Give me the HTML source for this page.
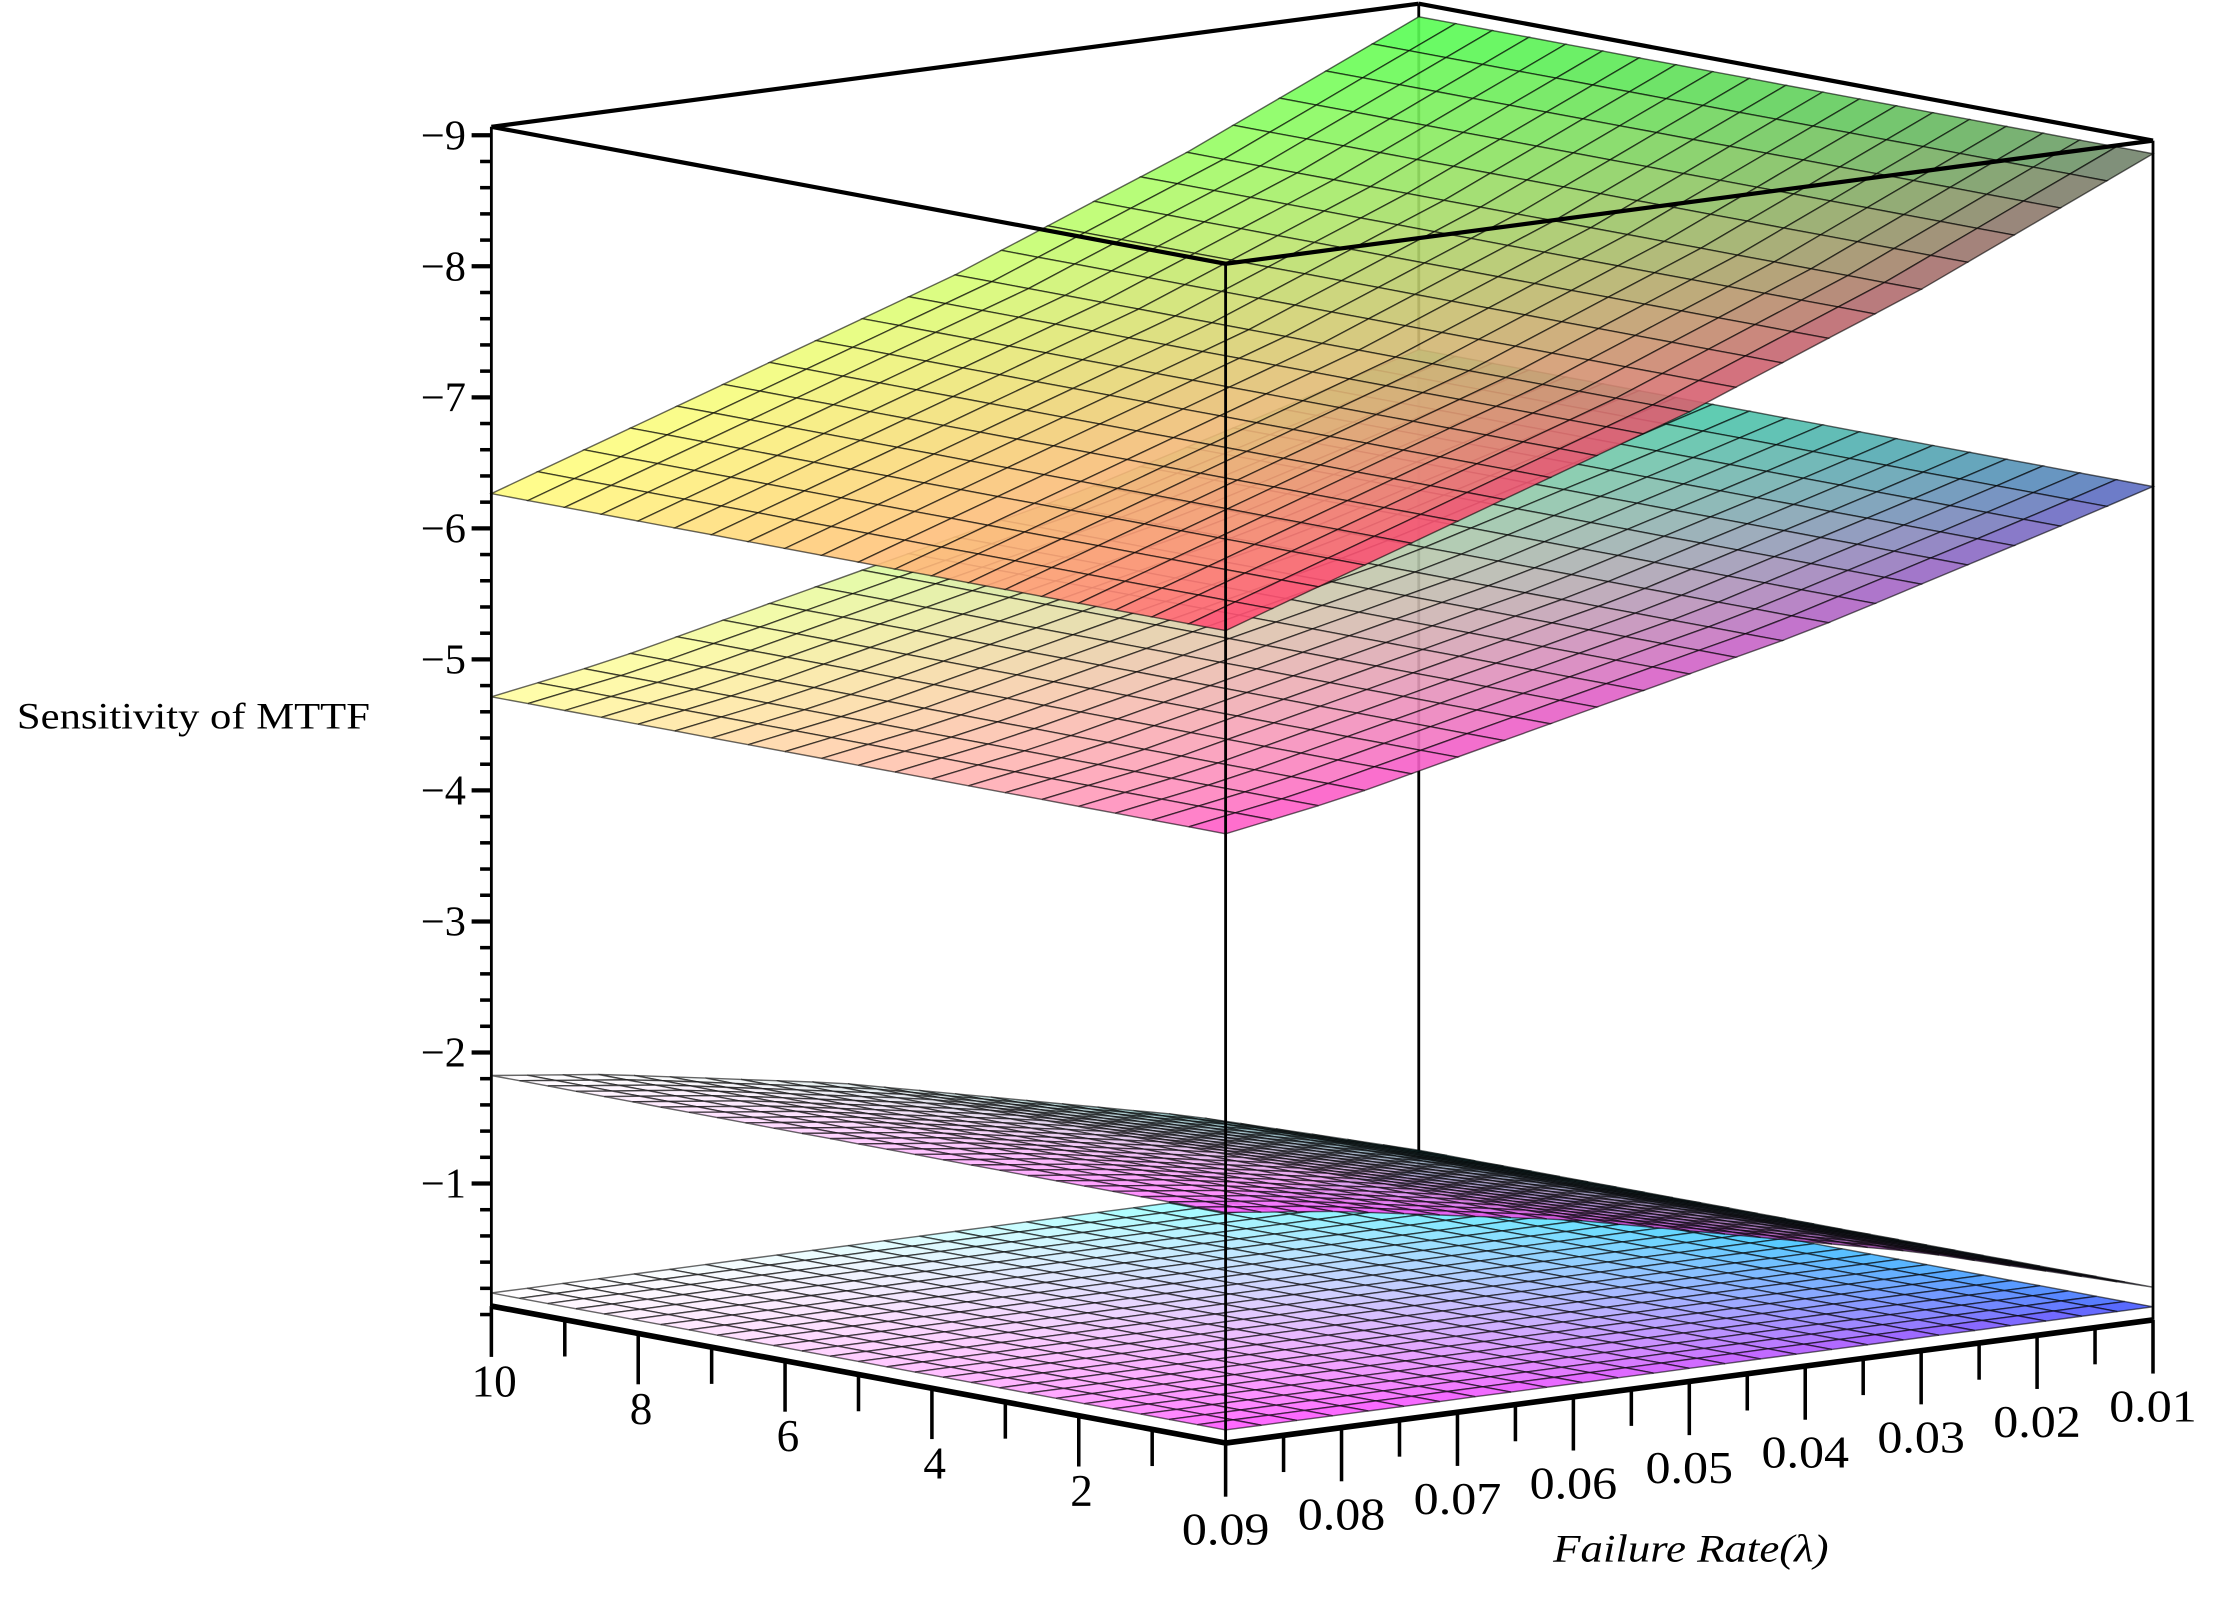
<!DOCTYPE html>
<html><head><meta charset="utf-8">
<style>
html,body{margin:0;padding:0;background:#fff;}
svg{display:block;}
text{font-family:"Liberation Serif",serif;fill:#000;}
</style></head>
<body>
<svg id="chart" width="2214" height="1604" viewBox="0 0 1568 1136" preserveAspectRatio="none" xmlns="http://www.w3.org/2000/svg">
<g id="back"></g>
<g id="surfaces"></g>
<g id="front"></g>
<g id="axes"></g>
<text x="12" y="516" font-size="26" textLength="250" lengthAdjust="spacingAndGlyphs">Sensitivity of MTTF</text>
<text x="1100" y="1106" font-size="28" font-style="italic" textLength="195" lengthAdjust="spacingAndGlyphs">Failure Rate(λ)</text>
</svg>
<script>
// data
const lambdas = [0.01,0.02,0.03,0.04,0.05,0.06,0.07,0.08,0.09];
const surface1 = [8.9,8.5,8.1,7.75,7.4,7.1,6.8,6.5,6.2];
const surface2 = [6.36,6.1,5.85,5.6,5.4,5.2,5.0,4.8,4.65];
const surface3 = [0.25,0.5,0.75,0.95,1.15,1.35,1.5,1.65,1.76];
const surface4 = [0.1,0.1,0.1,0.1,0.1,0.1,0.1,0.1,0.1];
const zTicks = [1,2,3,4,5,6,7,8,9];
const kTicks = [2,4,6,8,10];
const lamTicks = [0.01,0.02,0.03,0.04,0.05,0.06,0.07,0.08,0.09];

const NS="http://www.w3.org/2000/svg";
function P(k,lam,s){
  const t=(0.09-lam)/0.01;
  return [868-52*k+82.1*t, 1022-9.7*k-10.9*t-92.8*s];
}
function interp(arr,lam){
  const f=(lam-0.01)/0.01; let i=Math.floor(f); if(i<0)i=0; if(i>7)i=7;
  const r=f-i; return arr[i]*(1-r)+arr[i+1]*r;
}
function hex(c){return [parseInt(c.substr(1,2),16),parseInt(c.substr(3,2),16),parseInt(c.substr(5,2),16)];}
function mk(tag,attrs,parent){const e=document.createElementNS(NS,tag);for(const a in attrs)e.setAttribute(a,attrs[a]);parent.appendChild(e);return e;}
function line(p,q,w,parent,name){
  const e=mk('line',{x1:p[0],y1:p[1],x2:q[0],y2:q[1],stroke:'#000','stroke-width':w},parent);
  
  
  return e;
}
const back=document.getElementById('back'),front=document.getElementById('front'),surf=document.getElementById('surfaces'),axes=document.getElementById('axes');
line(P(10,0.01,0),P(10,0.01,9),2,back,'back-vertical-edge');

const defs=[
 {arr:surface4,n:26,c:['#ff40ff','#ffffff','#4040ff','#40ffff'],name:'surface-4'},
 {arr:surface3,n:26,c:['#ff40ff','#ffffff','#281838','#208080'],name:'surface-3'},
 {arr:surface2,n:20,c:['#ff40d0','#ffffa0','#5858c8','#40e8a0'],name:'surface-2'},
 {arr:surface1,n:20,c:['#ff3070','#ffff80','#707070','#50ff50'],name:'surface-1'}
];
defs.forEach(d=>{
  const g=mk('g',{},surf);
  
  
  const C=d.c.map(hex);
  const n=d.n;
  for(let i=n-1;i>=0;i--){
    for(let j=n-1;j>=0;j--){
      const k0=10*i/n,k1=10*(i+1)/n;
      const l0=0.09-0.08*j/n,l1=0.09-0.08*(j+1)/n;
      const pts=[[k0,l0],[k1,l0],[k1,l1],[k0,l1]].map(q=>P(q[0],q[1],interp(d.arr,q[1])));
      const u=(i+0.5)/n,v=(j+0.5)/n;
      const uu=Math.sqrt(u), vv=v*v;
      const col=[0,1,2].map(m=>Math.round(C[0][m]*(1-uu)*(1-vv)+C[1][m]*uu*(1-vv)+C[2][m]*(1-uu)*vv+C[3][m]*uu*vv));
      const poly=mk('polygon',{points:pts.map(p=>p[0].toFixed(1)+','+p[1].toFixed(1)).join(' '),fill:'rgb('+col.join(',')+')','fill-opacity':0.9,stroke:'rgba(0,0,0,0.6)','stroke-width':1},g);
      
      
    }
  }
});
line(P(10,0.09,0),P(10,0.09,9),2,front,'left-vertical-edge');
line(P(0,0.09,0),P(0,0.09,9),2,front,'front-vertical-edge');
line(P(0,0.01,0),P(0,0.01,9),2,front,'right-vertical-edge');
line(P(10,0.09,9),P(0,0.09,9),3,front,'top-front-left-edge');
line(P(0,0.09,9),P(0,0.01,9),3,front,'top-front-right-edge');
line(P(10,0.09,9),P(10,0.01,9),3,front,'top-back-left-edge');
line(P(10,0.01,9),P(0,0.01,9),3,front,'top-back-right-edge');
line(P(10,0.09,0),P(0,0.09,0),4,front,'floor-left-edge');
line(P(0,0.09,0),P(0,0.01,0),4,front,'floor-right-edge');

const zx=P(10,0.09,0)[0], z0=P(10,0.09,0)[1]+6;
for(let m=0;m<=45;m++){
  const s=m/5; const y=z0-92.8*s; if(s>9.01)break;
  const major=(m%5===0)&&m>0;
  line([zx-(major?14:8),y],[zx,y],major?3:2.5,axes,major?'z-major-tick':'z-minor-tick');
}
zTicks.forEach(v=>{
  const y=z0-92.8*v;
  const t=mk('text',{x:zx-18,y:y+10,'font-size':30,'text-anchor':'end'},axes);
  t.textContent='\u2212'+v;
  
  
});
for(let k=1;k<=10;k++){
  const p=P(k,0.09,0);
  line(p,[p[0],p[1]+(k%2===0?36:26)],2.5,axes,'k-tick');
}
kTicks.forEach(k=>{
  const p=P(k,0.09,0);
  const t=mk('text',{x:p[0]+2,y:p[1]+64,'font-size':32,'text-anchor':'middle'},axes);
  t.textContent=String(k);
  
  
});
for(let m=2;m<=18;m++){
  const lam=m*0.005; const p=P(0,lam,0);
  line(p,[p[0],p[1]+(m%2===0?38:26)],2.5,axes,'lambda-tick');
}
lamTicks.forEach(l=>{
  const p=P(0,l,0);
  const t=mk('text',{x:p[0],y:p[1]+72,'font-size':32,'text-anchor':'middle',textLength:62,lengthAdjust:'spacingAndGlyphs'},axes);
  t.textContent=l.toFixed(2);
  
  
});
</script>
</body></html>
